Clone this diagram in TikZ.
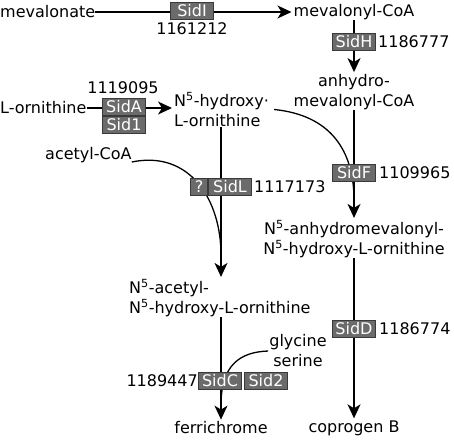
\documentclass[tikz,border=0pt]{standalone}
\usepackage{fontspec}
\setmainfont{DejaVu Sans}
\usetikzlibrary{arrows.meta}
\definecolor{boxfill}{HTML}{6B6B6B}
\definecolor{boxline}{HTML}{3A3A3A}
\begin{document}
\begin{tikzpicture}[x=1pt,y=-1pt,
  txt/.style={inner sep=0pt, font=\fontsize{16}{20}\selectfont, align=center},
  num/.style={inner sep=0pt, font=\fontsize{16}{20}\selectfont},
  enz/.style={draw=boxline, fill=boxfill, text=white, inner sep=0pt,
    minimum width=43pt, minimum height=16.5pt, line width=1pt,
    font=\fontsize{16}{16}\selectfont},
  conn/.style={line width=1.3pt},
  arr/.style={conn, shorten >=2pt, -{Stealth[length=14pt,width=13pt,inset=4pt]}}]
\useasboundingbox (0,0) rectangle (454,442);
% column coordinates
\coordinate (lc) at (221,0);
\coordinate (rc) at (354,0);
% metabolites
\node[txt, anchor=west] (mev) at (0,12) {mevalonate};
\node[txt] (mevcoa) at (354,12) {mevalonyl-CoA};
\node[txt] (anh) at (354,92) {anhydro-\\mevalonyl-CoA};
\node[txt, anchor=west] (orn) at (0,108) {L-ornithine};
\node[txt, anchor=west, align=left] (hyd) at (174,109.5) {N\textsuperscript{5}-hydroxy·\\L-ornithine};
\node[txt, anchor=west] (acoa) at (45,155) {acetyl-CoA};
\node[txt] (anhorn) at (354,239) {N\textsuperscript{5}-anhydromevalonyl-\\N\textsuperscript{5}-hydroxy-L-ornithine};
\node[txt, anchor=west, align=left] (acorn) at (129,298) {N\textsuperscript{5}-acetyl-\\N\textsuperscript{5}-hydroxy-L-ornithine};
\node[txt] (gly) at (298,351) {glycine\\serine};
\node[txt] (ferri) at (221,428) {ferrichrome};
\node[txt] (copro) at (354,428) {coprogen B};
% merge points
\coordinate (m1) at (221,255);
\coordinate (m2) at (354,200);
\coordinate (m3) at (221,405);
% connectors
\draw[arr] (mev) -- (mevcoa);
\draw[arr] (mevcoa.south -| rc) -- (anh.north -| rc);
\draw[arr] (orn.east) -- (orn.east -| hyd.west);
\draw[arr] (hyd.south -| lc) -- (acorn.north -| lc);
\draw[conn] ([yshift=-7pt]acoa.east) .. controls (190,150) and (221,200) .. (m1);
\draw[conn] ([xshift=5pt]hyd.east) .. controls (330,115) and (354,150) .. (m2);
\draw[arr] (anh.south -| rc) -- (anhorn.north -| rc);
\draw[arr] (anhorn.south -| rc) -- (copro.north -| rc);
\draw[arr] (acorn.south -| lc) -- (ferri.north -| lc);
\draw[conn] ([xshift=-1pt]gly.west) .. controls (240,352) and (221,365) .. (m3);
% enzymes
\node[enz] (sidI) at (192,11) {SidI};
\node[enz] (sidH) at (354,42) {SidH};
\node[enz] (sidA) at (124,107) {SidA};
\node[enz] (sid1) at (124,125) {Sid1};
\node[enz, minimum width=17pt] (unk) at (199,187) {?};
\node[enz] (sidL) at (230,187) {SidL};
\node[enz] (sidF) at (354,173) {SidF};
\node[enz] (sidD) at (354,329) {SidD};
\node[enz] (sidC) at (220,381) {SidC};
\node[enz] (sid2) at (266,381) {Sid2};
% gene numbers
\node[num] (n1) at (192,29) {1161212};
\node[num, anchor=west] (n2) at (378,42) {1186777};
\node[num] (n3) at (123,88) {1119095};
\node[num, anchor=west] (n4) at (254,187) {1117173};
\node[num, anchor=west] (n5) at (379,173) {1109965};
\node[num, anchor=west] (n6) at (379,329) {1186774};
\node[num, anchor=east] (n7) at (198,381) {1189447};
\end{tikzpicture}
\end{document}
